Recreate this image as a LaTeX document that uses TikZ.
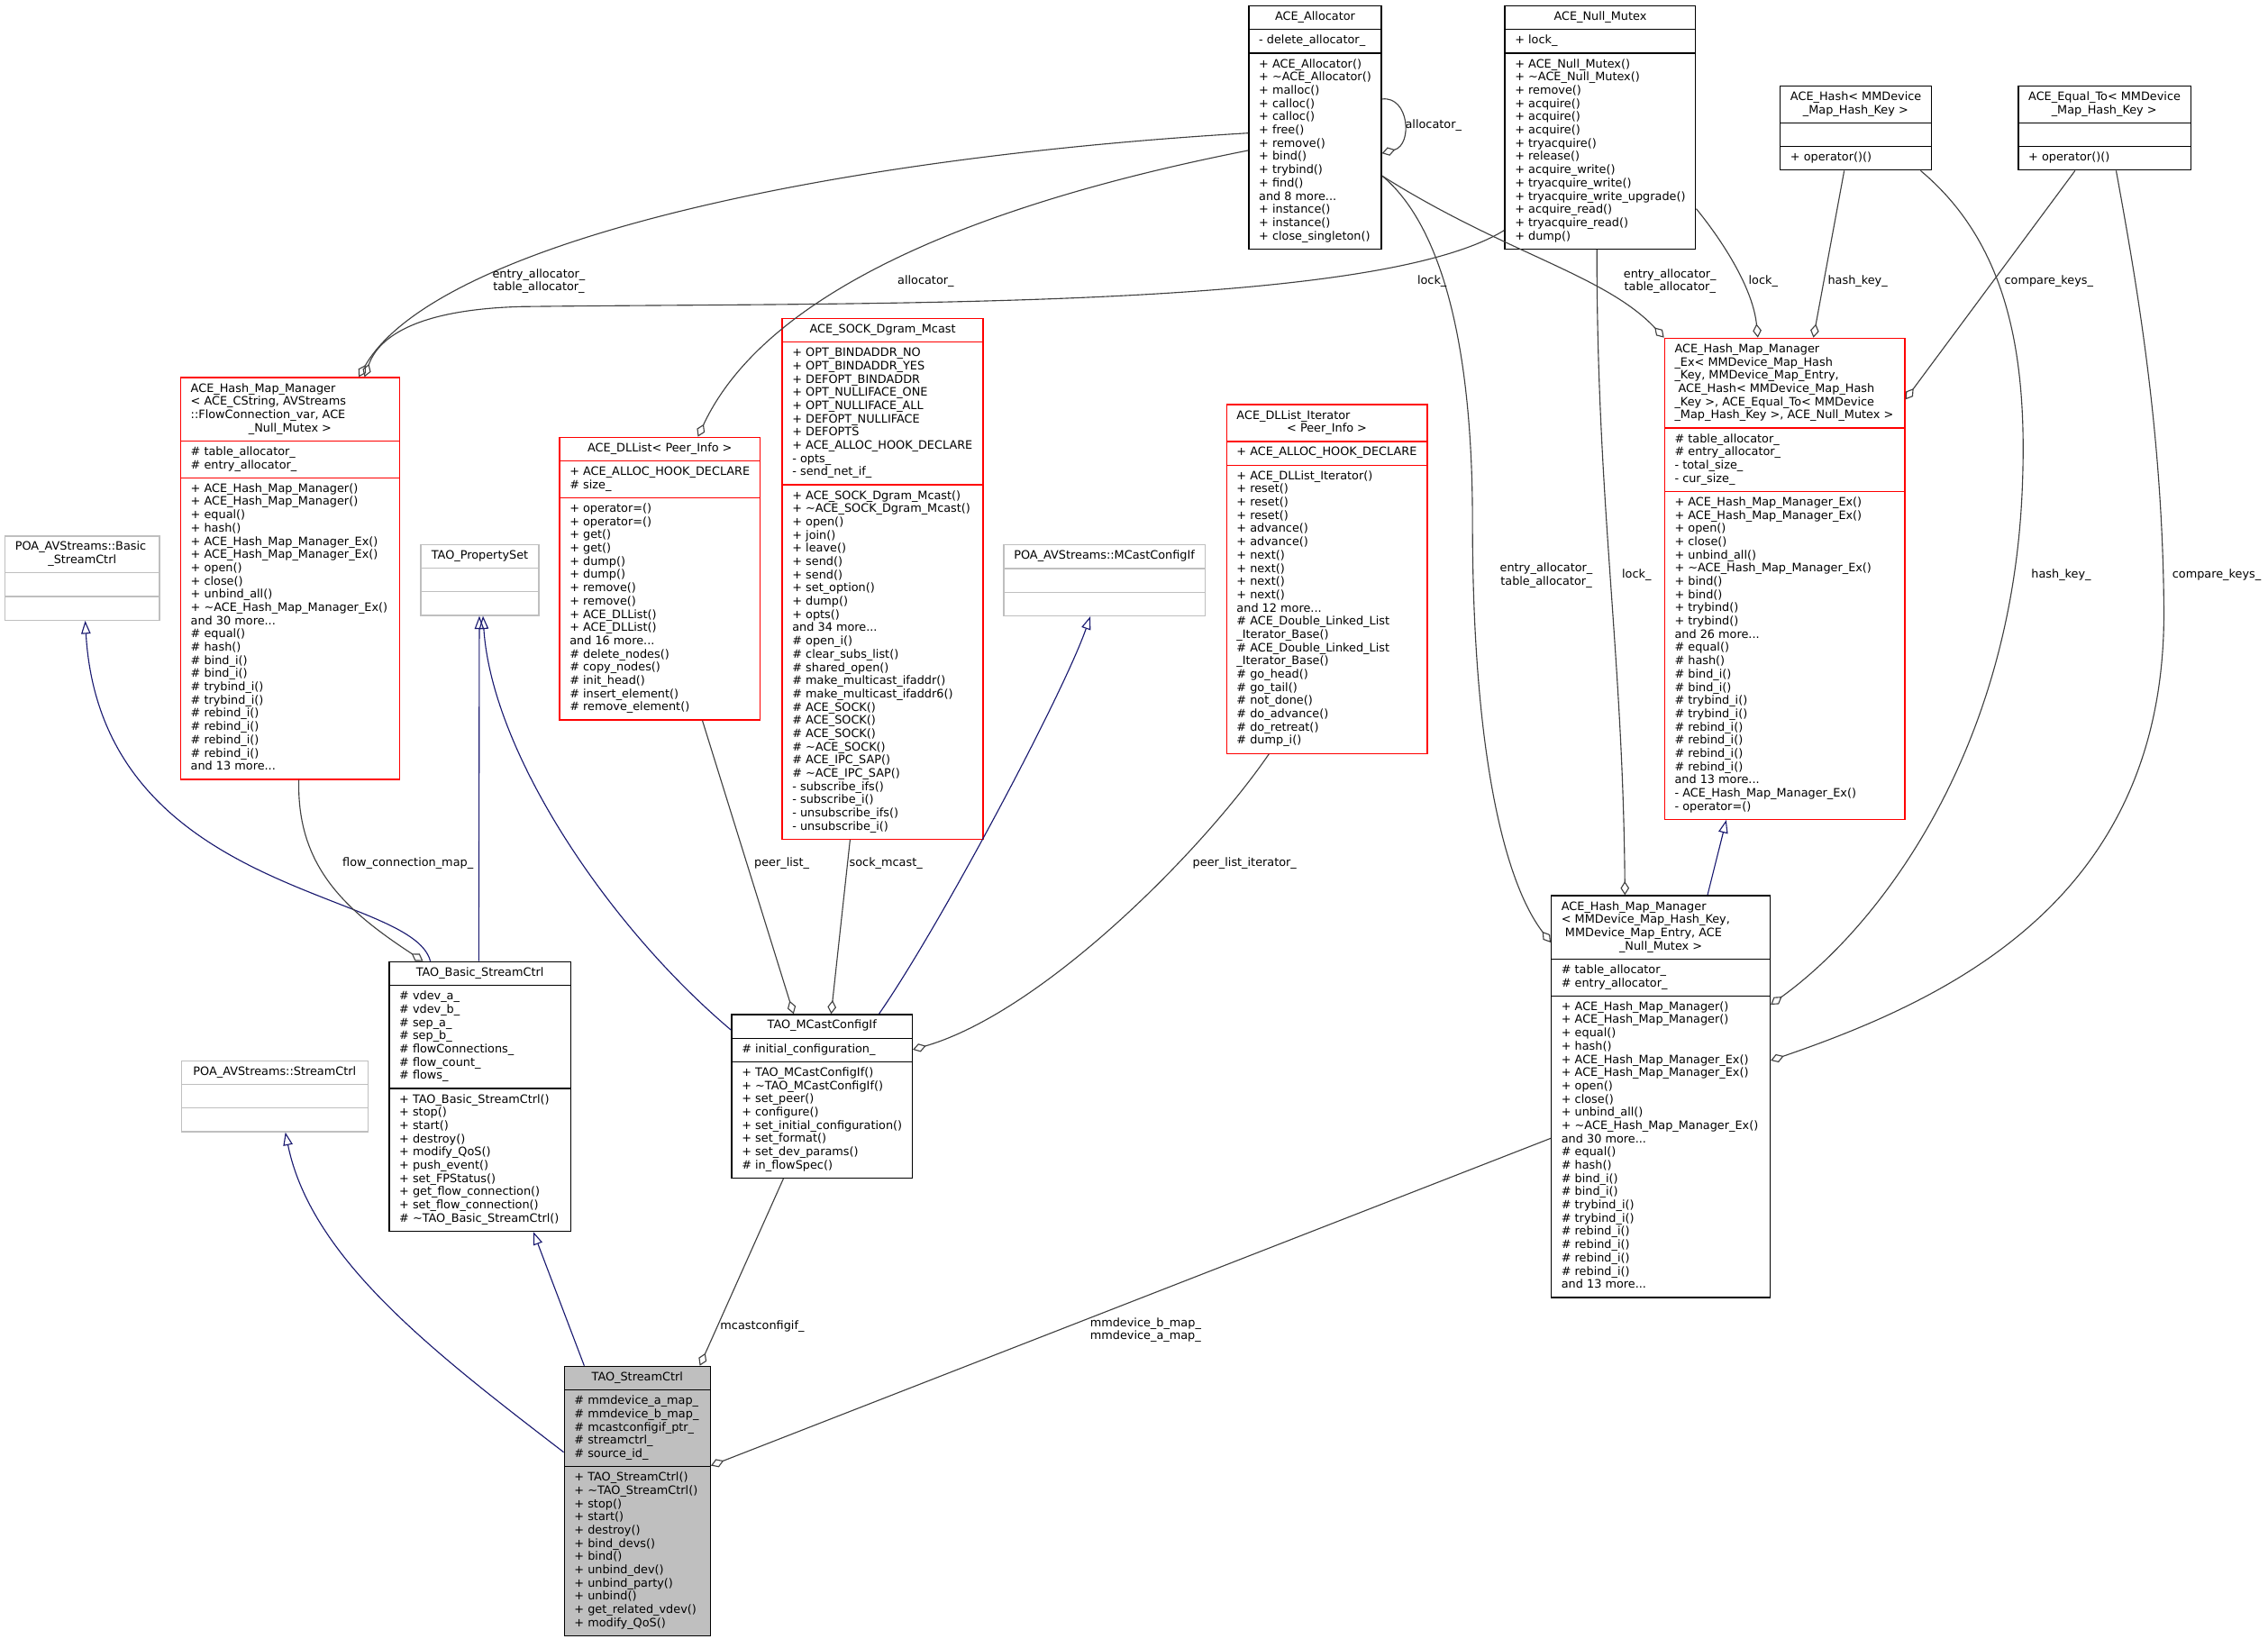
\documentclass[tikz,border=0pt]{standalone}
\usepackage{fontspec}
\setmainfont{DejaVu Sans}
\usetikzlibrary{shapes.multipart,arrows.meta}
\definecolor{edgegray}{HTML}{404040}
\definecolor{inhblue}{HTML}{191970}
\definecolor{boxgray}{HTML}{BFBFBF}
\begin{document}
\begin{tikzpicture}[x=1pt, y=-1pt, font=\fontsize{8}{9.15}\selectfont,
  cls/.style={rectangle split, rectangle split parts=3, draw=#1, fill=white, line width=0.8pt,
    anchor=north west, inner xsep=7pt, inner ysep=3.2pt, align=left,
    rectangle split part align={center,left,left}},
  cls/.default=black,
  ltitle/.style={rectangle split part align={left,left,left}},
  agg/.style={draw=edgegray, line width=0.7pt, -{Diamond[open, length=9.5pt, width=6pt]}},
  inh/.style={draw=inhblue, line width=0.7pt, -{Triangle[open, length=9pt, width=6.5pt]}},
  lbl/.style={align=center, inner sep=0pt}]
\path[use as bounding box, fill=white] (0,0) rectangle (1568,1133);
% top row
\node[cls, minimum width=91.5pt] (alloc) at (863,3.7) {\strut ACE\_Allocator
  \nodepart{two}\strut - delete\_allocator\_
  \nodepart{three}\strut + ACE\_Allocator()\\+ \textasciitilde ACE\_Allocator()\\+ malloc()\\+ calloc()\\+ calloc()\\+ free()\\+ remove()\\+ bind()\\+ trybind()\\+ find()\\and 8 more...\\+ instance()\\+ instance()\\+ close\_singleton()\strut};
\node[cls, minimum width=130pt] (nmutex) at (1040,3.7) {\strut ACE\_Null\_Mutex
  \nodepart{two}\strut + lock\_
  \nodepart{three}\strut + ACE\_Null\_Mutex()\\+ \textasciitilde ACE\_Null\_Mutex()\\+ remove()\\+ acquire()\\+ acquire()\\+ acquire()\\+ tryacquire()\\+ release()\\+ acquire\_write()\\+ tryacquire\_write()\\+ tryacquire\_write\_upgrade()\\+ acquire\_read()\\+ tryacquire\_read()\\+ dump()\strut};
\node[cls, ltitle, minimum width=104.2pt] (hashk) at (1230.4,59) {\strut ACE\_Hash< MMDevice\\\makebox[90.2pt]{\_Map\_Hash\_Key >\strut}
  \nodepart{two}\strut
  \nodepart{three}\strut + operator()()};
\node[cls, ltitle, minimum width=118.7pt] (eqk) at (1395,59) {\strut ACE\_Equal\_To< MMDevice\\\makebox[104.7pt]{\_Map\_Hash\_Key >\strut}
  \nodepart{two}\strut
  \nodepart{three}\strut + operator()()};
% hash map managers
\node[cls=red, ltitle, minimum width=166.1pt] (hmmEx) at (1150.4,233.4) {\strut ACE\_Hash\_Map\_Manager\\\_Ex< MMDevice\_Map\_Hash\\\_Key, MMDevice\_Map\_Entry,\\~ACE\_Hash< MMDevice\_Map\_Hash\\\_Key >, ACE\_Equal\_To< MMDevice\\\_Map\_Hash\_Key >, ACE\_Null\_Mutex >\strut
  \nodepart{two}\strut\# table\_allocator\_\\\# entry\_allocator\_\\- total\_size\_\\- cur\_size\_\strut
  \nodepart{three}\strut + ACE\_Hash\_Map\_Manager\_Ex()\\+ ACE\_Hash\_Map\_Manager\_Ex()\\+ open()\\+ close()\\+ unbind\_all()\\+ \textasciitilde ACE\_Hash\_Map\_Manager\_Ex()\\+ bind()\\+ bind()\\+ trybind()\\+ trybind()\\and 26 more...\\\# equal()\\\# hash()\\\# bind\_i()\\\# bind\_i()\\\# trybind\_i()\\\# trybind\_i()\\\# rebind\_i()\\\# rebind\_i()\\\# rebind\_i()\\\# rebind\_i()\\and 13 more...\\- ACE\_Hash\_Map\_Manager\_Ex()\\- operator=()\strut};
\node[cls, ltitle, minimum width=151.3pt] (hmmR) at (1072.1,618.8) {\strut ACE\_Hash\_Map\_Manager\\< MMDevice\_Map\_Hash\_Key,\\~MMDevice\_Map\_Entry, ACE\\\makebox[137.3pt]{\_Null\_Mutex >\strut}
  \nodepart{two}\strut\# table\_allocator\_\\\# entry\_allocator\_\strut
  \nodepart{three}\strut + ACE\_Hash\_Map\_Manager()\\+ ACE\_Hash\_Map\_Manager()\\+ equal()\\+ hash()\\+ ACE\_Hash\_Map\_Manager\_Ex()\\+ ACE\_Hash\_Map\_Manager\_Ex()\\+ open()\\+ close()\\+ unbind\_all()\\+ \textasciitilde ACE\_Hash\_Map\_Manager\_Ex()\\and 30 more...\\\# equal()\\\# hash()\\\# bind\_i()\\\# bind\_i()\\\# trybind\_i()\\\# trybind\_i()\\\# rebind\_i()\\\# rebind\_i()\\\# rebind\_i()\\\# rebind\_i()\\and 13 more...\strut};
\node[cls=red, ltitle, minimum width=151.3pt] (hmmL) at (124.5,260.6) {\strut ACE\_Hash\_Map\_Manager\\< ACE\_CString, AVStreams\\::FlowConnection\_var, ACE\\\makebox[137.3pt]{\_Null\_Mutex >\strut}
  \nodepart{two}\strut\# table\_allocator\_\\\# entry\_allocator\_\strut
  \nodepart{three}\strut + ACE\_Hash\_Map\_Manager()\\+ ACE\_Hash\_Map\_Manager()\\+ equal()\\+ hash()\\+ ACE\_Hash\_Map\_Manager\_Ex()\\+ ACE\_Hash\_Map\_Manager\_Ex()\\+ open()\\+ close()\\+ unbind\_all()\\+ \textasciitilde ACE\_Hash\_Map\_Manager\_Ex()\\and 30 more...\\\# equal()\\\# hash()\\\# bind\_i()\\\# bind\_i()\\\# trybind\_i()\\\# trybind\_i()\\\# rebind\_i()\\\# rebind\_i()\\\# rebind\_i()\\\# rebind\_i()\\and 13 more...\strut};
% middle row
\node[cls=boxgray, ltitle, minimum width=106.7pt] (poaBasic) at (3.1,370.2) {\strut POA\_AVStreams::Basic\\\makebox[92.7pt]{\_StreamCtrl\strut}
  \nodepart{two}\strut
  \nodepart{three}\strut};
\node[cls=boxgray, minimum width=81.7pt] (propset) at (290.5,376) {\strut TAO\_PropertySet
  \nodepart{two}\strut
  \nodepart{three}\strut};
\node[cls=red, minimum width=138.6pt] (dllist) at (386.5,301.9) {\strut ACE\_DLList< Peer\_Info >
  \nodepart{two}\strut + ACE\_ALLOC\_HOOK\_DECLARE\\\# size\_\strut
  \nodepart{three}\strut + operator=()\\+ operator=()\\+ get()\\+ get()\\+ dump()\\+ dump()\\+ remove()\\+ remove()\\+ ACE\_DLList()\\+ ACE\_DLList()\\and 16 more...\\\# delete\_nodes()\\\# copy\_nodes()\\\# init\_head()\\\# insert\_element()\\\# remove\_element()\strut};
\node[cls=red, minimum width=138.9pt] (sock) at (540.4,219.7) {\strut ACE\_SOCK\_Dgram\_Mcast
  \nodepart{two}\strut + OPT\_BINDADDR\_NO\\+ OPT\_BINDADDR\_YES\\+ DEFOPT\_BINDADDR\\+ OPT\_NULLIFACE\_ONE\\+ OPT\_NULLIFACE\_ALL\\+ DEFOPT\_NULLIFACE\\+ DEFOPTS\\+ ACE\_ALLOC\_HOOK\_DECLARE\\- opts\_\\- send\_net\_if\_\strut
  \nodepart{three}\strut + ACE\_SOCK\_Dgram\_Mcast()\\+ \textasciitilde ACE\_SOCK\_Dgram\_Mcast()\\+ open()\\+ join()\\+ leave()\\+ send()\\+ send()\\+ set\_option()\\+ dump()\\+ opts()\\and 34 more...\\\# open\_i()\\\# clear\_subs\_list()\\\# shared\_open()\\\# make\_multicast\_ifaddr()\\\# make\_multicast\_ifaddr6()\\\# ACE\_SOCK()\\\# ACE\_SOCK()\\\# ACE\_SOCK()\\\# \textasciitilde ACE\_SOCK()\\\# ACE\_IPC\_SAP()\\\# \textasciitilde ACE\_IPC\_SAP()\\- subscribe\_ifs()\\- subscribe\_i()\\- unsubscribe\_ifs()\\- unsubscribe\_i()\strut};
\node[cls=boxgray, minimum width=139.2pt] (poaMcast) at (693.5,376.3) {\strut POA\_AVStreams::MCastConfigIf
  \nodepart{two}\strut
  \nodepart{three}\strut};
\node[cls=red, ltitle, minimum width=138.7pt] (dliter) at (847.6,279.3) {\strut ACE\_DLList\_Iterator\\\makebox[124.7pt]{< Peer\_Info >\strut}
  \nodepart{two}\strut + ACE\_ALLOC\_HOOK\_DECLARE
  \nodepart{three}\strut + ACE\_DLList\_Iterator()\\+ reset()\\+ reset()\\+ reset()\\+ advance()\\+ advance()\\+ next()\\+ next()\\+ next()\\+ next()\\and 12 more...\\\# ACE\_Double\_Linked\_List\\\_Iterator\_Base()\\\# ACE\_Double\_Linked\_List\\\_Iterator\_Base()\\\# go\_head()\\\# go\_tail()\\\# not\_done()\\\# do\_advance()\\\# do\_retreat()\\\# dump\_i()\strut};
% lower row
\node[cls, minimum width=125.4pt] (basic) at (268.7,664.5) {\strut TAO\_Basic\_StreamCtrl
  \nodepart{two}\strut\# vdev\_a\_\\\# vdev\_b\_\\\# sep\_a\_\\\# sep\_b\_\\\# flowConnections\_\\\# flow\_count\_\\\# flows\_\strut
  \nodepart{three}\strut + TAO\_Basic\_StreamCtrl()\\+ stop()\\+ start()\\+ destroy()\\+ modify\_QoS()\\+ push\_event()\\+ set\_FPStatus()\\+ get\_flow\_connection()\\+ set\_flow\_connection()\\\# \textasciitilde TAO\_Basic\_StreamCtrl()\strut};
\node[cls, minimum width=123pt] (mcast) at (505.5,701) {\strut TAO\_MCastConfigIf
  \nodepart{two}\strut\# initial\_configuration\_
  \nodepart{three}\strut + TAO\_MCastConfigIf()\\+ \textasciitilde TAO\_MCastConfigIf()\\+ set\_peer()\\+ configure()\\+ set\_initial\_configuration()\\+ set\_format()\\+ set\_dev\_params()\\\# in\_flowSpec()\strut};
\node[cls=boxgray, minimum width=129pt] (poaSctrl) at (125,733) {\strut POA\_AVStreams::StreamCtrl
  \nodepart{two}\strut
  \nodepart{three}\strut};
\node[cls, fill=boxgray, minimum width=101pt] (sctrl) at (389.7,944.2) {\strut TAO\_StreamCtrl
  \nodepart{two}\strut\# mmdevice\_a\_map\_\\\# mmdevice\_b\_map\_\\\# mcastconfigif\_ptr\_\\\# streamctrl\_\\\# source\_id\_\strut
  \nodepart{three}\strut + TAO\_StreamCtrl()\\+ \textasciitilde TAO\_StreamCtrl()\\+ stop()\\+ start()\\+ destroy()\\+ bind\_devs()\\+ bind()\\+ unbind\_dev()\\+ unbind\_party()\\+ unbind()\\+ get\_related\_vdev()\\+ modify\_QoS()\strut};
% inheritance
\draw[inh] ([yshift=-59.8pt]sctrl.north west) .. controls (300,935) and (215,870) .. ([xshift=72.3pt]poaSctrl.south west);
\draw[inh] ([xshift=14.2pt]sctrl.north west) -- ([xshift=100pt]basic.south west);
\draw[inh] ([xshift=28.8pt]basic.north west) .. controls (285,615) and (70,620) .. ([xshift=55.8pt]poaBasic.south west);
\draw[inh] ([xshift=62.3pt]basic.north west) -- ([xshift=40.9pt]propset.south west);
\draw[inh] ([yshift=-11.2pt]mcast.north west) .. controls (420,640) and (340,520) .. ([xshift=43.4pt]propset.south west);
\draw[inh] ([xshift=102.2pt]mcast.north west) .. controls (650,640) and (735,480) .. ([xshift=60.3pt]poaMcast.south west);
\draw[inh] ([xshift=108.4pt]hmmR.north west) -- ([xshift=43.1pt]hmmEx.south west);
% members
\draw[agg] ([xshift=36.1pt]mcast.south west) -- ([xshift=94.1pt]sctrl.north west);
\draw[agg] ([yshift=-168.2pt]hmmR.north west) -- ([yshift=-69.1pt]sctrl.north east);
\draw[agg] ([xshift=82.1pt]hmmL.south west) .. controls (205,600) and (240,630) .. ([xshift=23.8pt]basic.north west);
\draw[agg] ([xshift=99.1pt]dllist.south west) -- ([xshift=43.2pt]mcast.north west);
\draw[agg] ([xshift=47.3pt]sock.south west) -- ([xshift=69.1pt]mcast.north west);
\draw[agg] ([xshift=29.7pt]dliter.south west) .. controls (830,590) and (720,700) .. ([yshift=-24.7pt]mcast.north east);
\draw[agg] ([yshift=-88.3pt]alloc.north west) .. controls (560,110) and (300,170) .. ([xshift=123.5pt]hmmL.north west);
\draw[agg] ([yshift=-155.5pt]nmutex.north west) .. controls (950,215) and (600,209) .. (360,212) .. controls (290,214) and (262,232) .. ([xshift=127.5pt]hmmL.north west);
\draw[agg] ([yshift=-100.3pt]alloc.north west) .. controls (680,140) and (530,200) .. ([xshift=96pt]dllist.north west);
\draw[agg] ([yshift=-64.8pt]alloc.north east) .. controls (974,66) and (977,100) .. ([yshift=-102.3pt]alloc.north east);
\draw[agg] ([yshift=-117.8pt]alloc.north east) .. controls (990,150) and (1018,220) .. (1018,360) .. controls (1018,520) and (1040,610) .. ([yshift=-32.8pt]hmmR.north west);
\draw[agg] ([yshift=-117.8pt]alloc.north east) .. controls (1040,175) and (1110,190) .. (hmmEx.north west);
\draw[agg] ([yshift=-140.6pt]nmutex.north east) .. controls (1192,168) and (1212,200) .. ([xshift=64.9pt]hmmEx.north west);
\draw[agg] ([xshift=64pt]nmutex.south west) .. controls (1104,350) and (1122,450) .. ([xshift=51.3pt]hmmR.north west);
\draw[agg] ([xshift=44.6pt]hashk.south west) -- ([xshift=103.3pt]hmmEx.north west);
\draw[agg] ([xshift=39.6pt]eqk.south west) -- ([yshift=-42.8pt]hmmEx.north east);
\draw[agg] ([xshift=97.4pt]hashk.south west) .. controls (1390,170) and (1402,250) .. (1398,340) .. controls (1390,520) and (1300,640) .. ([yshift=-75.8pt]hmmR.north east);
\draw[agg] ([xshift=68pt]eqk.south west) .. controls (1478,200) and (1495,300) .. (1496,420) .. controls (1498,620) and (1350,690) .. ([yshift=-114.4pt]hmmR.north east);
% labels
\node[lbl] (lAllocSelf) at (991,86.5) {allocator\_};
\node[lbl] (lAllocL) at (372.5,194.5) {entry\_allocator\_\\table\_allocator\_};
\node[lbl] (lAllocD) at (640,194.5) {allocator\_};
\node[lbl] (lLockL) at (990,194.5) {lock\_};
\node[lbl] (lAllocEx) at (1154.5,194.5) {entry\_allocator\_\\table\_allocator\_};
\node[lbl] (lLockEx) at (1219,194.5) {lock\_};
\node[lbl] (lHashEx) at (1284.3,194.5) {hash\_key\_};
\node[lbl] (lCmpEx) at (1416.5,194.5) {compare\_keys\_};
\node[lbl] (lAllocR) at (1069,398) {entry\_allocator\_\\table\_allocator\_};
\node[lbl] (lLockR) at (1131.5,397.5) {lock\_};
\node[lbl] (lHashR) at (1425,397.5) {hash\_key\_};
\node[lbl] (lCmpR) at (1532.5,397.5) {compare\_keys\_};
\node[lbl] (lFlow) at (282,597) {flow\_connection\_map\_};
\node[lbl] (lPeer) at (540.5,597) {peer\_list\_};
\node[lbl] (lSock) at (612.5,597) {sock\_mcast\_};
\node[lbl] (lIter) at (860.5,597) {peer\_list\_iterator\_};
\node[lbl] (lMcast) at (527,917) {mcastconfigif\_};
\node[lbl] (lMmdev) at (792,919.5) {mmdevice\_b\_map\_\\mmdevice\_a\_map\_};
\end{tikzpicture}
\end{document}
